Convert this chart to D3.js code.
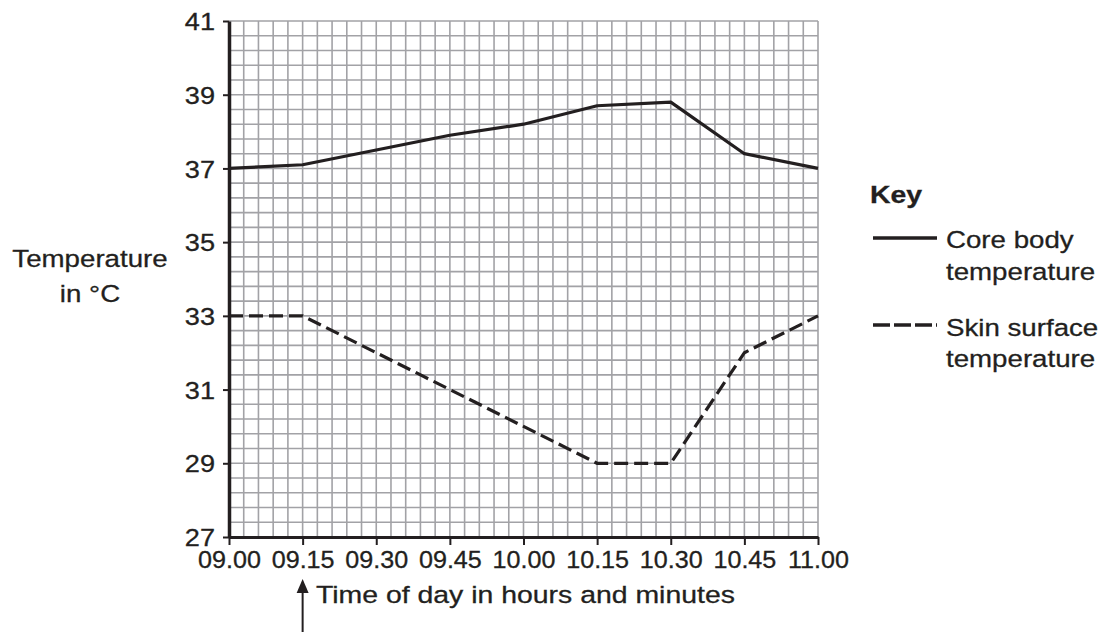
<!DOCTYPE html>
<html><head><meta charset="utf-8">
<script src="https://cdn.jsdelivr.net/npm/d3@7"></script>
<style>body{margin:0;background:#fff}svg{display:block}text{font-family:"Liberation Sans",Arial,sans-serif;fill:#231f20;stroke:#231f20;stroke-width:0.3px}</style>
</head><body><svg id="c" width="1114" height="632"></svg>
<script>
const minutes = [0, 15, 30, 45, 60, 75, 90, 105, 120];
const timeLabels = ["09.00","09.15","09.30","09.45","10.00","10.15","10.30","10.45","11.00"];
const coreTemp = [37.0, 37.1, 37.5, 37.9, 38.2, 38.7, 38.8, 37.4, 37.0];
const skinTemp = [33, 33, 32, 31, 30, 29, 29, 32, 33];
const yTicks = [27, 29, 31, 33, 35, 37, 39, 41];

const svg = d3.select("#c");
const L = 229, R = 818, T = 21, B = 537;
const SX = 1.13;
const x = d3.scaleLinear().domain([0, 120]).range([L, R]);
const y = d3.scaleLinear().domain([27, 41]).range([B, T]);

// grid
const g = svg.append("g").attr("stroke", "#a2a2a6").attr("stroke-width", 1.6);
g.selectAll("line.v").data(d3.range(0, 121, 3)).join("line")
  .attr("x1", d => x(d)).attr("x2", d => x(d)).attr("y1", T).attr("y2", B);
g.selectAll("line.h").data(d3.range(0, 35.01, 1).map(i => 27 + i * 0.4)).join("line")
  .attr("y1", d => y(d)).attr("y2", d => y(d)).attr("x1", L).attr("x2", R);

// axes
const xAxis = d3.axisBottom(x).tickValues(minutes).tickFormat((d, i) => timeLabels[i]).tickSize(8).tickSizeOuter(0);
const xa = svg.append("g").attr("transform", `translate(0,${B})`).call(xAxis);
xa.select(".domain").attr("stroke", "#231f20").attr("stroke-width", 3);
xa.selectAll(".tick line").attr("stroke", "#231f20").attr("stroke-width", 2);
xa.selectAll(".tick text").attr("font-size", 23.5).attr("x", 0).attr("y", 0).attr("dy", 0)
  .attr("transform", "translate(0,31) scale(1.07,1)")
  .style("font-family", '"Liberation Sans",Arial,sans-serif').attr("fill", "#231f20");

const yAxis = d3.axisLeft(y).tickValues(yTicks).tickFormat(d3.format("d")).tickSize(6).tickSizeOuter(0);
const ya = svg.append("g").attr("transform", `translate(${L},0)`).call(yAxis);
ya.select(".domain").attr("stroke", "#231f20").attr("stroke-width", 3.5);
ya.selectAll(".tick line").attr("stroke", "#231f20").attr("stroke-width", 2);
ya.selectAll(".tick text").attr("font-size", 24).attr("x", 0).attr("dy", "0.36em")
  .attr("transform", `translate(-14,0) scale(${SX},1)`)
  .style("font-family", '"Liberation Sans",Arial,sans-serif').attr("fill", "#231f20");

// lines
const line = d3.line().x((d, i) => x(minutes[i])).y(d => y(d));
svg.append("path").datum(coreTemp).attr("d", line).attr("fill", "none")
  .attr("stroke", "#231f20").attr("stroke-width", 3.2).attr("stroke-linejoin", "round");
svg.append("path").datum(skinTemp).attr("d", line).attr("fill", "none")
  .attr("stroke", "#231f20").attr("stroke-width", 3.2).attr("stroke-dasharray", "14,6");

function label(px, py, str, opts = {}) {
  return svg.append("text").attr("transform", `translate(${px},${py}) scale(${opts.sx || SX},1)`)
    .attr("font-size", opts.size || 24.5).attr("font-weight", opts.weight || "normal")
    .attr("text-anchor", opts.anchor || "start").text(str);
}

// y title
label(90, 267, "Temperature", {anchor: "middle"});
label(90, 302, "in °C", {anchor: "middle"});

// x title + arrow
label(316, 603, "Time of day in hours and minutes", {sx: 1.16});
svg.append("line").attr("x1", x(15)).attr("x2", x(15)).attr("y1", 590).attr("y2", 632)
  .attr("stroke", "#231f20").attr("stroke-width", 2);
svg.append("path").attr("d", `M${x(15)},579 L${x(15) - 6},593 L${x(15) + 6},593 Z`).attr("fill", "#231f20");

// legend
label(870, 203, "Key", {weight: "bold", size: 24.5, sx: 1.16});
svg.append("line").attr("x1", 873).attr("x2", 937).attr("y1", 238).attr("y2", 238)
  .attr("stroke", "#231f20").attr("stroke-width", 3.5);
svg.append("line").attr("x1", 873).attr("x2", 937).attr("y1", 325).attr("y2", 325)
  .attr("stroke", "#231f20").attr("stroke-width", 3.5).attr("stroke-dasharray", "17,4");
label(946, 248, "Core body");
label(946, 280, "temperature");
label(946, 336, "Skin surface");
label(946, 367, "temperature");
</script></body></html>
